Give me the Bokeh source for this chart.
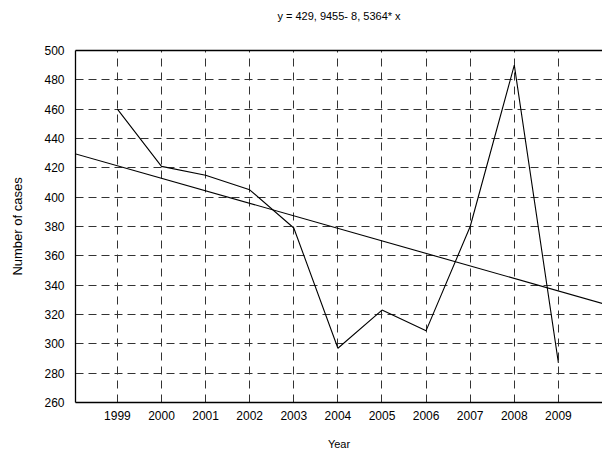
from bokeh.plotting import figure
from bokeh.models import FixedTicker, Range1d, LinearAxis
from bokeh.embed import file_html
from bokeh.resources import INLINE

# Data
years = [1999, 2000, 2001, 2002, 2003, 2004, 2005, 2006, 2007, 2008, 2009]
cases = [460, 421, 415, 405, 379, 297, 323, 309, 380, 490, 287]

# Regression line y = a + b*x with x = year - 1998
intercept = 429.9455
slope = -8.5364
trend_years = [1998, 2010]
trend_vals = [intercept + slope * (yr - 1998) for yr in trend_years]

y_ticks = [260, 280, 300, 320, 340, 360, 380, 400, 420, 440, 460, 480, 500]
title_text = "y = 429, 9455- 8, 5364* x"

FONT = "Liberation Sans"

p = figure(width=602, height=452, output_backend="svg", toolbar_location=None,
           x_range=Range1d(1998.05, 2010.0), y_range=Range1d(260, 500),
           min_border_left=75, min_border_right=0, min_border_top=50,
           min_border_bottom=48)

p.outline_line_color = None
p.background_fill_color = "white"
p.border_fill_color = "white"

bottom_axis = p.below[0]
left_axis = p.left[0]
bottom_axis.ticker = FixedTicker(ticks=years)
left_axis.ticker = FixedTicker(ticks=y_ticks)

# Title drawn as the label of an empty axis above the plot
top_axis = LinearAxis(ticker=FixedTicker(ticks=[]), axis_label=title_text)
p.add_layout(top_axis, "above")

for ax in (bottom_axis, left_axis, top_axis):
    ax.major_tick_line_color = None
    ax.major_tick_out = 0
    ax.major_tick_in = 0
    ax.minor_tick_line_color = None
    ax.minor_tick_out = 0
    ax.minor_tick_in = 0
    ax.axis_line_color = "black"
    ax.axis_line_width = 1.3
    ax.major_label_text_font = FONT
    ax.major_label_text_font_size = "12px"
    ax.major_label_text_color = "black"
    ax.axis_label_text_font = FONT
    ax.axis_label_text_font_style = "normal"
    ax.axis_label_text_color = "black"

top_axis.major_label_standoff = 0
top_axis.axis_label_text_font_size = "11px"
top_axis.axis_label_standoff = 29

bottom_axis.axis_label = "Year"
bottom_axis.axis_label_text_font_size = "11px"
bottom_axis.major_label_standoff = 8
bottom_axis.axis_label_standoff = 15

left_axis.axis_label = "Number of cases"
left_axis.axis_label_text_font_size = "13px"
left_axis.major_label_standoff = 11
left_axis.axis_label_standoff = 16

# Grid
p.xgrid.grid_line_color = "#333333"
p.xgrid.grid_line_dash = "8 6"
p.xgrid.grid_line_width = 1
p.ygrid.ticker = FixedTicker(ticks=y_ticks[1:-1])
p.ygrid.grid_line_color = "#333333"
p.ygrid.grid_line_dash = "8 5"
p.ygrid.grid_line_width = 1

# Series
p.line(years, cases, line_color="black", line_width=1.1)
p.line(trend_years, trend_vals, line_color="black", line_width=1.1)

open("out.html", "w").write(file_html(p, INLINE))
